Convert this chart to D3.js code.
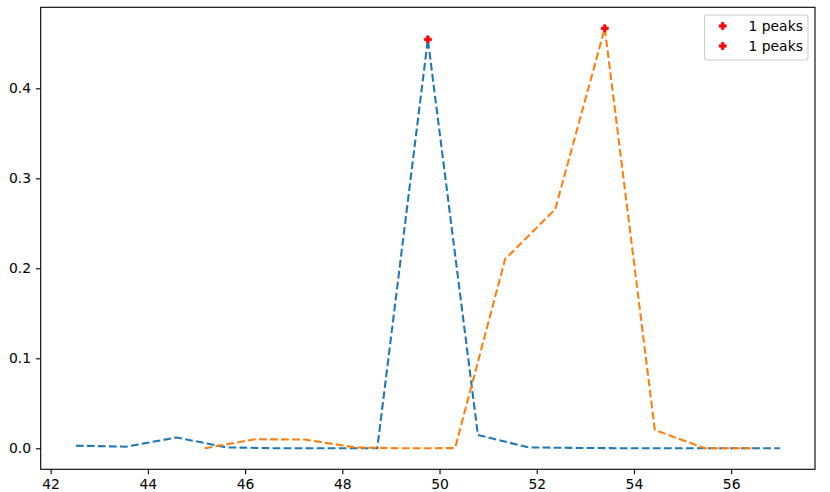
<!DOCTYPE html>
<html>
<head>
<meta charset="utf-8">
<script src="https://cdn.jsdelivr.net/npm/d3@7"></script>
<style>
  html, body { margin: 0; padding: 0; background: #fff; }
  svg { display: block; }
  text { font-family: "DejaVu Sans", sans-serif; }
</style>
</head>
<body>
<svg id="chart" width="830" height="492"></svg>
<script>
// ---- data ----
const blueX = [42.52, 43.55, 44.59, 45.62, 46.66, 47.69, 48.72, 49.76, 50.79, 51.83, 52.86, 53.90, 54.93, 55.96, 57.00];
const blueY = [0.0029, 0.0018, 0.0120, 0.0010, 0.0, 0.0, 0.0, 0.4544, 0.0148, 0.0010, 0.0004, 0.0, 0.0, 0.0, 0.0];
const orangeX = [45.17, 46.20, 47.23, 48.26, 49.29, 50.32, 51.35, 52.38, 53.40, 54.43, 55.46, 56.49];
const orangeY = [0.0, 0.0100, 0.0098, 0.0010, 0.0, 0.0002, 0.2103, 0.2656, 0.4667, 0.0203, 0.0, 0.0];
const peakX = [49.76, 53.40];
const peakY = [0.4544, 0.4667];
const legendLabels = ["1 peaks", "1 peaks"];
const xTicks = [42, 44, 46, 48, 50, 52, 54, 56];
const yTicks = [0.0, 0.1, 0.2, 0.3, 0.4];

// ---- layout ----
const svg = d3.select("#chart");
const L = 40.7, R = 815, T = 7.3, B = 469.3;

const xMin = 42.52, xMax = 57.0, yMin = 0, yMax = 0.4667;
const xPad = (xMax - xMin) * 0.05, yPad = (yMax - yMin) * 0.05;
const x = d3.scaleLinear().domain([xMin - xPad, xMax + xPad]).range([L, R]);
const y = d3.scaleLinear().domain([yMin - yPad, yMax + yPad]).range([B, T]);

const fontSize = 13.9;

// axes
const xAxis = d3.axisBottom(x).tickValues(xTicks).tickFormat(d3.format("d")).tickSizeOuter(0).tickSize(4.86).tickPadding(4.86);
const yAxis = d3.axisLeft(y).tickValues(yTicks).tickFormat(d3.format(".1f")).tickSizeOuter(0).tickSize(4.86).tickPadding(4.86);

const gx = svg.append("g").attr("transform", `translate(0,${B})`).call(xAxis);
const gy = svg.append("g").attr("transform", `translate(${L},0)`).call(yAxis);
[gx, gy].forEach(g => {
  g.select(".domain").remove();
  g.selectAll(".tick line").attr("stroke", "#000").attr("stroke-width", 1.1);
  g.selectAll(".tick text").attr("fill", "#000").attr("font-size", fontSize).attr("font-family", "DejaVu Sans");
});

// lines
const lineGen = d3.line().x(d => x(d[0])).y(d => y(d[1]));
const series = [
  { xs: blueX, ys: blueY, color: "#1f77b4" },
  { xs: orangeX, ys: orangeY, color: "#ff7f0e" }
];
const clip = svg.append("clipPath").attr("id", "clip").append("rect")
  .attr("x", L).attr("y", T).attr("width", R - L).attr("height", B - T);
const plot = svg.append("g").attr("clip-path", "url(#clip)");
series.forEach(s => {
  plot.append("path")
    .datum(s.xs.map((v, i) => [v, s.ys[i]]))
    .attr("fill", "none")
    .attr("stroke", s.color)
    .attr("stroke-width", 2.08)
    .attr("stroke-dasharray", "7.7,3.33")
    .attr("stroke-linejoin", "round")
    .attr("d", lineGen);
});

// filled plus marker
function plusPath(cx, cy, s) {
  const a = s / 2, b = s / 6;
  return `M${cx - b},${cy - a}H${cx + b}V${cy - b}H${cx + a}V${cy + b}H${cx + b}V${cy + a}H${cx - b}V${cy + b}H${cx - a}V${cy - b}H${cx - b}Z`;
}
peakX.forEach((px, i) => {
  plot.append("path")
    .attr("d", plusPath(x(px), y(peakY[i]), 7))
    .attr("fill", "red")
    .attr("stroke", "red")
    .attr("stroke-width", 0.8);
});

// frame
svg.append("rect").attr("x", L).attr("y", T).attr("width", R - L).attr("height", B - T)
  .attr("fill", "none").attr("stroke", "#000").attr("stroke-width", 1.1);

// legend
const lg = svg.append("g");
lg.append("rect").attr("x", 704.5).attr("y", 15).attr("width", 103.5).attr("height", 45).attr("rx", 2.5)
  .attr("fill", "#fff").attr("fill-opacity", 0.8).attr("stroke", "#cccccc").attr("stroke-width", 1.1);
legendLabels.forEach((lab, i) => {
  const cy = 26 + i * 20;
  lg.append("path").attr("d", plusPath(722.7, cy, 7)).attr("fill", "red").attr("stroke", "red").attr("stroke-width", 0.8);
  lg.append("text").attr("x", 748.5).attr("y", cy).attr("dy", "0.35em")
    .attr("font-size", fontSize).attr("fill", "#000").text(lab);
});
</script>
</body>
</html>
